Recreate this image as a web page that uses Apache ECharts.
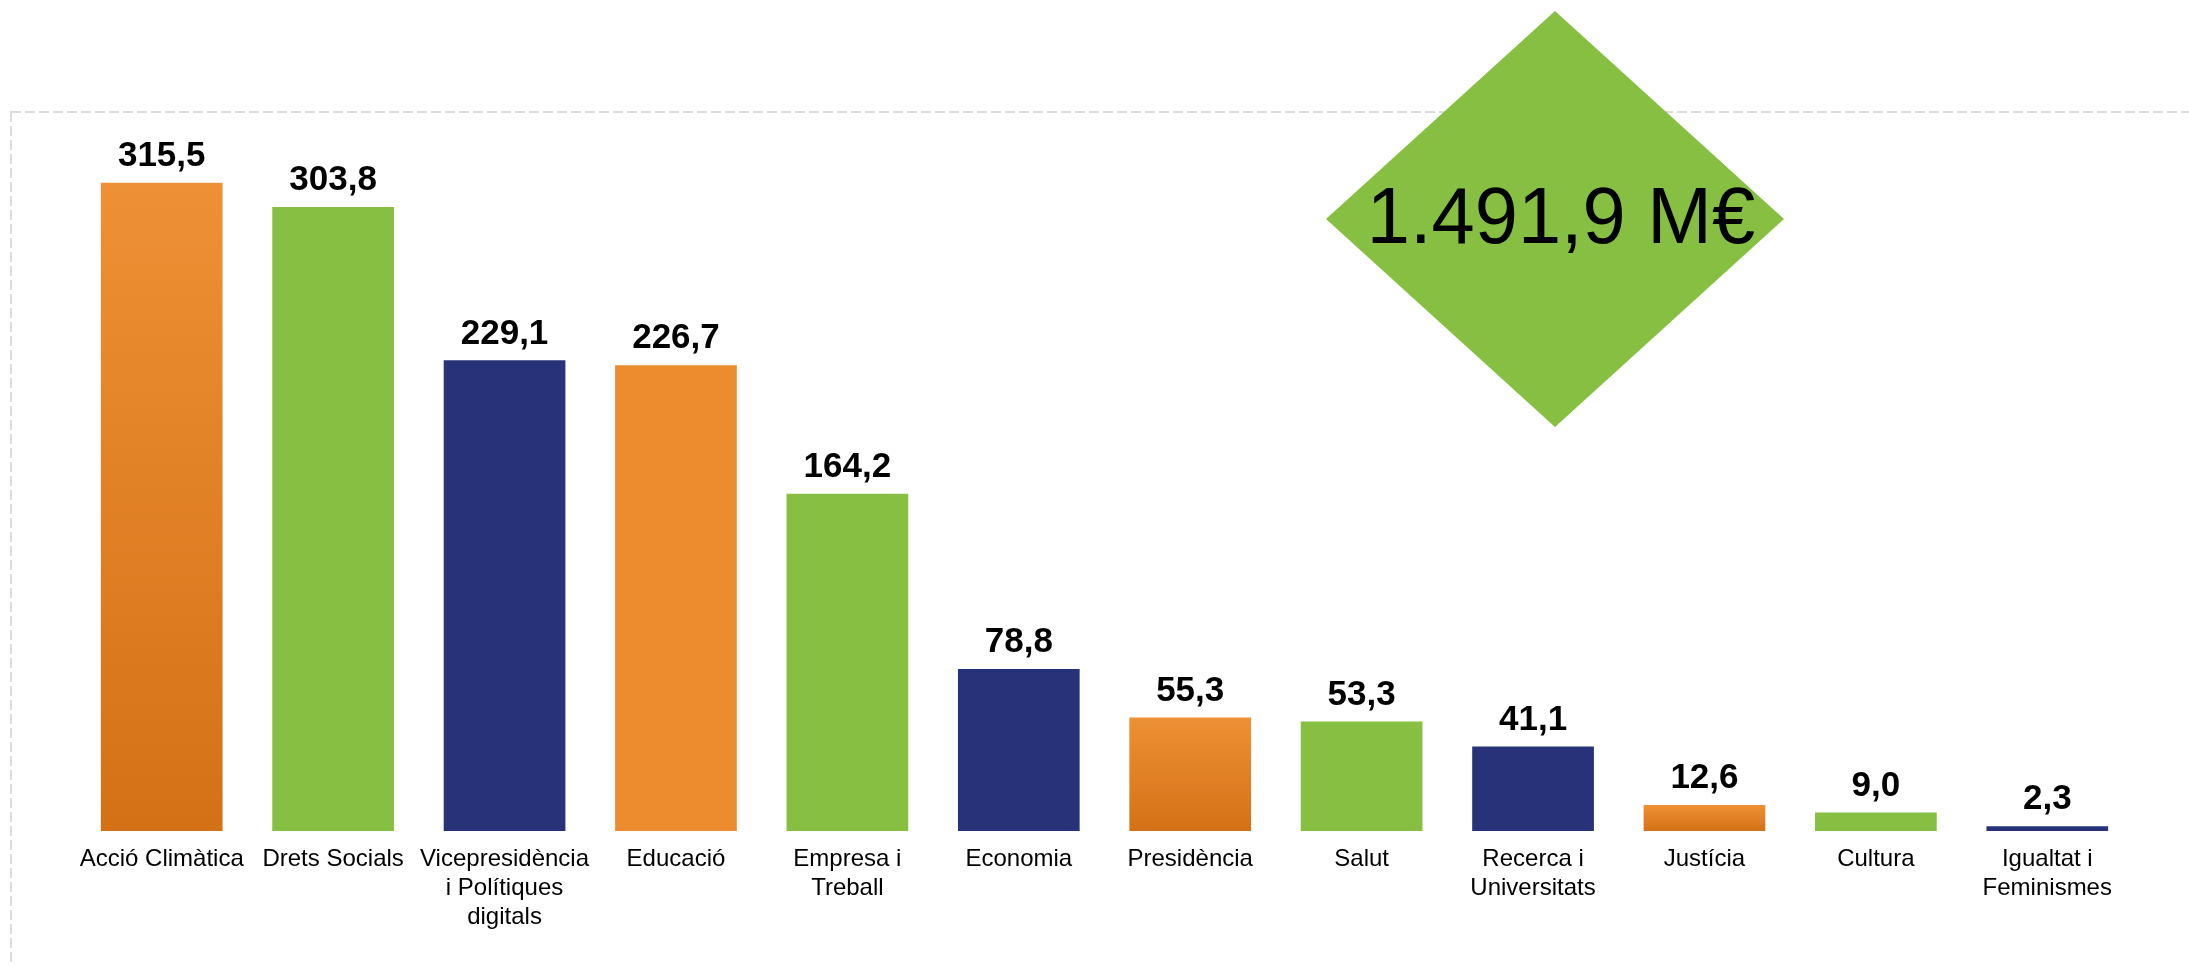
<!DOCTYPE html>
<html>
<head>
<meta charset="utf-8">
<script src="https://cdn.jsdelivr.net/npm/echarts@6/dist/echarts.min.js"></script>
<style>
html,body{margin:0;padding:0;background:#fff;}
#chart{width:2189px;height:966px;}
</style>
</head>
<body>
<div id="chart"></div>
<script>
const categories = ['Acció Climàtica','Drets Socials','Vicepresidència\ni Polítiques\ndigitals','Educació','Empresa i\nTreball','Economia','Presidència','Salut','Recerca i\nUniversitats','Justícia','Cultura','Igualtat i\nFeminismes'];
const values = [315.5, 303.8, 229.1, 226.7, 164.2, 78.8, 55.3, 53.3, 41.1, 12.6, 9.0, 2.3];
const colorKeys = ['orangeGrad','green','navy','orange','green','navy','orangeGrad','green','navy','orangeGrad','green','navy'];
const totalLabel = '1.491,9 M€';

const palette = {
  green: '#86bf41',
  navy: '#283278',
  orange: '#ec8c2f',
  orangeGrad: new echarts.graphic.LinearGradient(0,0,0,1,[{offset:0,color:'#ee9035'},{offset:1,color:'#d47117'}])
};

const chart = echarts.init(document.getElementById('chart'));
const fmt = v => v.toFixed(1).replace('.', ',');

chart.setOption({
  animation: false,
  backgroundColor: '#ffffff',
  grid: {left: 76, right: 56, top: 112, bottom: 135},
  xAxis: {
    type: 'category',
    data: categories,
    axisLine: {show: false},
    axisTick: {show: false},
    axisLabel: {
      interval: 0,
      margin: 14,
      fontFamily: 'Liberation Sans, Arial, sans-serif',
      fontSize: 24,
      lineHeight: 29,
      color: '#000000'
    }
  },
  yAxis: {
    type: 'value',
    min: 0,
    max: 350,
    show: false,
    splitLine: {show: false}
  },
  series: [{
    type: 'bar',
    barCategoryGap: '29%',
    data: values.map((v, i) => ({value: v, itemStyle: {color: palette[colorKeys[i]]}})),
    label: {
      show: true,
      position: 'top',
      distance: 9,
      formatter: p => fmt(p.value),
      fontFamily: 'Liberation Sans, Arial, sans-serif',
      fontWeight: 'bold',
      fontSize: 35,
      color: '#000000'
    }
  }],
  graphic: [
    {
      type: 'rect',
      z: 0,
      silent: true,
      shape: {x: 11, y: 112, width: 2400, height: 1000},
      style: {fill: null, stroke: '#dcdcdc', lineWidth: 2, lineDash: [10, 4]}
    },
    {
      type: 'polygon',
      z: 100,
      silent: true,
      shape: {points: [[1555, 11], [1784, 219], [1555, 427], [1326, 219]]},
      style: {fill: '#86bf41'}
    },
    {
      type: 'text',
      z: 101,
      silent: true,
      x: 1561,
      y: 221,
      scaleX: 0.97,
      style: {
        text: totalLabel,
        fontFamily: 'Liberation Sans, Arial, sans-serif',
        fontSize: 80,
        fill: '#000000',
        align: 'center',
        verticalAlign: 'middle'
      }
    }
  ]
});
</script>
</body>
</html>
